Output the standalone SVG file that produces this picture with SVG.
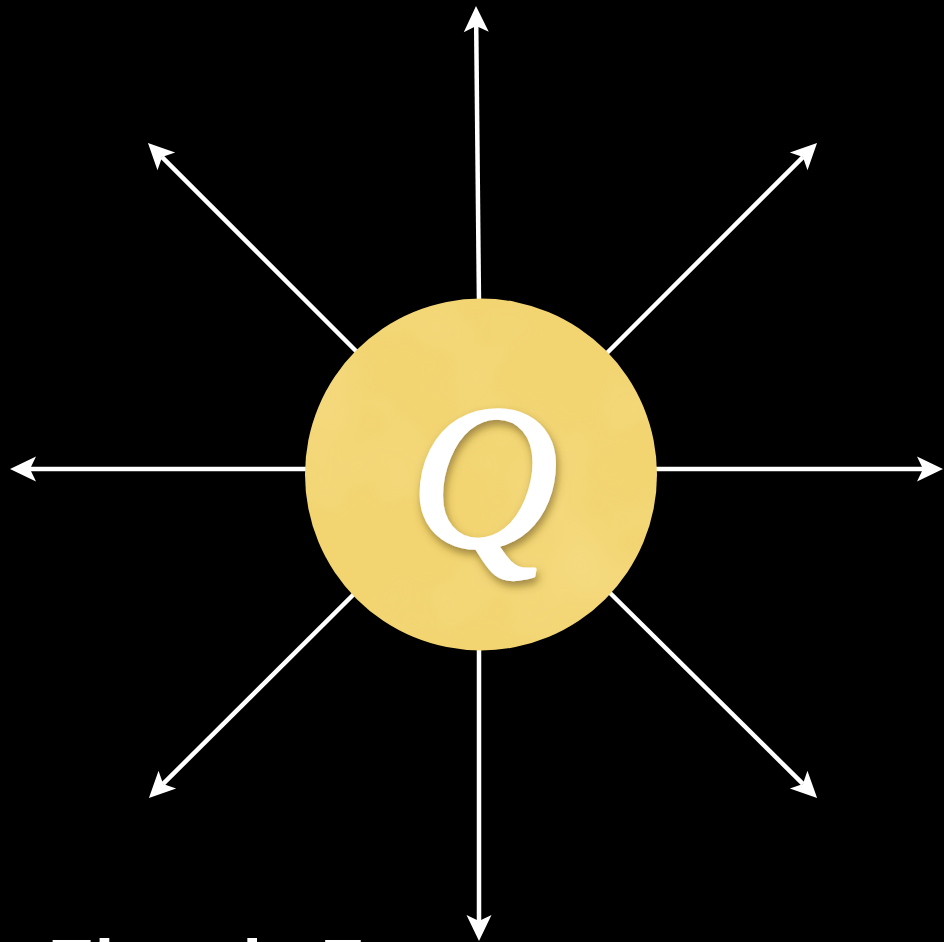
<svg xmlns="http://www.w3.org/2000/svg" width="944" height="942" viewBox="0 0 944 942">
  <style>
    .fieldline { stroke: #ffffff; stroke-width: 4.5; fill: none; marker-end: url(#arrowhead); }
    .qlabel { font-family: "Liberation Serif", "Times New Roman", serif; font-style: italic; font-size: 205px; fill: #ffffff; stroke: #ffffff; stroke-width: 3.5; stroke-linejoin: round; }
    .caption { font-family: "Liberation Sans", Arial, sans-serif; font-weight: bold; font-size: 70px; fill: #ffffff; }
  </style>
  <defs>
    <marker id="arrowhead" markerUnits="userSpaceOnUse" markerWidth="40" markerHeight="40" viewBox="-10 -15 40 30" refX="0" refY="0" orient="auto">
      <path d="M20,0 L-6,-12.5 L0,0 L-6,12.5 Z" fill="#ffffff"/>
    </marker>
    <filter id="paper" x="0" y="0" width="100%" height="100%">
      <feTurbulence type="fractalNoise" baseFrequency="0.008" numOctaves="3" seed="7" result="n"/>
      <feColorMatrix in="n" type="matrix" values="0 0 0 0 0.99  0 0 0 0 0.88  0 0 0 0 0.50  0 0 0 1.2 -0.5" result="c"/>
      <feComposite in="c" in2="SourceGraphic" operator="in"/>
    </filter>
    <filter id="qshadow" x="-30%" y="-30%" width="160%" height="160%">
      <feDropShadow dx="2" dy="5" stdDeviation="4" flood-color="#5a4310" flood-opacity="0.55"/>
    </filter>
  </defs>
  <rect width="944" height="942" fill="#000000"/>
  <g id="connectors">
    <line class="fieldline" x1="479" y1="305" x2="476.2" y2="26"/>
    <line class="fieldline" x1="479" y1="645" x2="479" y2="921"/>
    <line class="fieldline" x1="650" y1="469" x2="923" y2="469"/>
    <line class="fieldline" x1="310" y1="469" x2="30" y2="469"/>
    <line class="fieldline" x1="360" y1="355" x2="162.1" y2="157.1"/>
    <line class="fieldline" x1="605" y1="355" x2="802.9" y2="157.1"/>
    <line class="fieldline" x1="360" y1="588" x2="163.1" y2="783.9"/>
    <line class="fieldline" x1="605" y1="588" x2="802.9" y2="783.9"/>
  </g>
  <g id="charge">
    <circle cx="481" cy="474.5" r="176" fill="#F2D470"/>
    <circle cx="481" cy="474.5" r="176" fill="#ffffff" filter="url(#paper)" opacity="0.35"/>
    <text class="qlabel" x="484" y="546" text-anchor="middle" filter="url(#qshadow)">Q</text>
  </g>
  <g id="caption">
    <text class="caption" x="48" y="989">Electric Force</text>
  </g>
</svg>
